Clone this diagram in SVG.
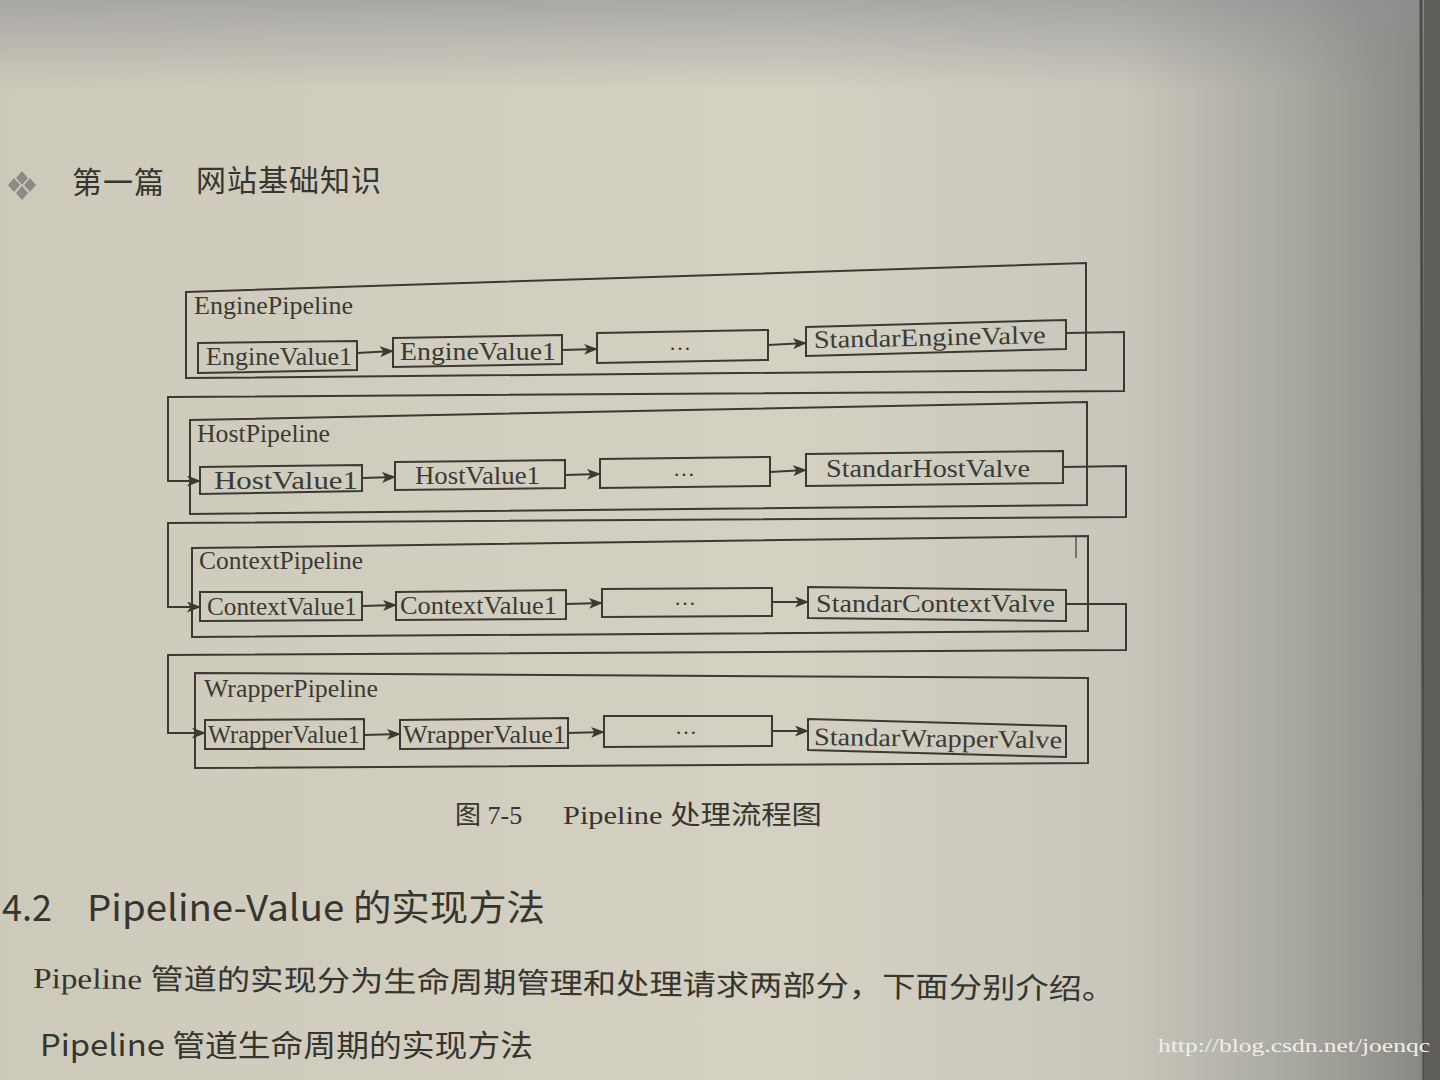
<svg xmlns="http://www.w3.org/2000/svg" width="1440" height="1080" viewBox="0 0 1440 1080">
<defs>
<linearGradient id="pageH" x1="0" y1="0" x2="1" y2="0">
<stop offset="0" stop-color="#cdcabb"/>
<stop offset="0.55" stop-color="#d4d1c3"/>
<stop offset="0.78" stop-color="#c9c7bb"/>
<stop offset="0.9" stop-color="#a9a8a0"/>
<stop offset="0.985" stop-color="#8a8983"/>
<stop offset="1" stop-color="#6a6a64"/>
</linearGradient>
<linearGradient id="topShade" x1="0" y1="0" x2="0" y2="1">
<stop offset="0" stop-color="#8e8e92" stop-opacity="0.6"/>
<stop offset="1" stop-color="#8e8e92" stop-opacity="0"/>
</linearGradient>
<marker id="arr" viewBox="0 0 14 11" refX="13" refY="5.5" markerWidth="14" markerHeight="11" markerUnits="userSpaceOnUse" orient="auto">
<path d="M0,0 L14,5.5 L0,11 L3.5,5.5 Z" fill="#3a3934"/>
</marker>
<style>
.box{fill:none;stroke:#3a3934;stroke-width:2;stroke-linejoin:miter}
.conn{fill:none;stroke:#3a3934;stroke-width:2}
.lbl{font-family:"Liberation Serif","DejaVu Serif",serif;font-size:25px;fill:#3b3a35}
.dots{font-family:"Liberation Serif",serif;font-size:22px;fill:#3b3a35}
.cjk{font-family:"Noto Sans CJK SC","Noto Sans",sans-serif;fill:#36352f}
.ser{font-family:"Liberation Serif","Noto Sans CJK SC",serif;fill:#36352f}
</style>
</defs>
<rect x="0" y="0" width="1440" height="1080" fill="url(#pageH)"/>
<rect x="0" y="0" width="1440" height="90" fill="url(#topShade)"/>
<line x1="1421" y1="0" x2="1424" y2="1080" stroke="#4d4c45" stroke-width="3"/>
<rect x="1424" y="0" width="16" height="1080" fill="#5e5d57"/>

<g id="header">
<g fill="#8c8b85">
<path d="M22,171 L28,178 L22,185 L16,178 Z"/>
<path d="M22,186 L28,193 L22,200 L16,193 Z"/>
<path d="M14,178 L20,185 L14,192 L8,185 Z"/>
<path d="M30,178 L36,185 L30,192 L24,185 Z"/>
</g>
<text class="cjk" x="72" y="193" font-size="30" textLength="92">第一篇</text>
<text class="cjk" x="196" y="191" font-size="30" textLength="185">网站基础知识</text>
</g>

<g id="connectors">
<polyline class="conn" points="1066,333 1124,332 1124,391 168,397 168,481 200,481" marker-end="url(#arr)"/>
<polyline class="conn" points="1063,467 1126,466 1126,517 168,523 168,607 200,607" marker-end="url(#arr)"/>
<polyline class="conn" points="1066,604 1126,604 1126,650 168,655 168,733 205,733" marker-end="url(#arr)"/>
<line class="conn" x1="357" y1="353" x2="393" y2="351" marker-end="url(#arr)"/>
<line class="conn" x1="562" y1="350" x2="597" y2="349" marker-end="url(#arr)"/>
<line class="conn" x1="768" y1="345" x2="806" y2="343" marker-end="url(#arr)"/>
<line class="conn" x1="362" y1="478" x2="395" y2="477" marker-end="url(#arr)"/>
<line class="conn" x1="565" y1="475" x2="600" y2="474" marker-end="url(#arr)"/>
<line class="conn" x1="770" y1="472" x2="806" y2="470" marker-end="url(#arr)"/>
<line class="conn" x1="362" y1="606" x2="396" y2="605" marker-end="url(#arr)"/>
<line class="conn" x1="566" y1="604" x2="602" y2="603" marker-end="url(#arr)"/>
<line class="conn" x1="772" y1="602" x2="808" y2="602" marker-end="url(#arr)"/>
<line class="conn" x1="364" y1="735" x2="400" y2="734" marker-end="url(#arr)"/>
<line class="conn" x1="568" y1="733" x2="604" y2="732" marker-end="url(#arr)"/>
<line class="conn" x1="772" y1="731" x2="808" y2="731" marker-end="url(#arr)"/>
<line x1="1076" y1="537" x2="1076" y2="558" stroke="#5a5953" stroke-width="1.5"/>
</g>

<g id="engine-pipeline">
<polygon class="box" points="186,292 1086,263 1086,370 186,378"/>
<text class="lbl" x="194" y="314" textLength="159" lengthAdjust="spacingAndGlyphs">EnginePipeline</text>
<g id="engine-value-1"><polygon class="box" points="198,343 357,341 357,370 198,373"/><text class="lbl" x="206" y="365" textLength="146" lengthAdjust="spacingAndGlyphs">EngineValue1</text></g>
<g id="engine-value-2"><polygon class="box" points="393,338 562,335 562,364 393,367"/><text class="lbl" x="400" y="360" textLength="156" lengthAdjust="spacingAndGlyphs">EngineValue1</text></g>
<g id="engine-more"><polygon class="box" points="597,333 768,330 768,360 597,363"/><text class="dots" x="680" y="350" text-anchor="middle">…</text></g>
<g id="standar-engine-valve"><polygon class="box" points="806,327 1066,320 1066,349 806,356"/><text class="lbl" x="814" y="348" textLength="232" lengthAdjust="spacingAndGlyphs" transform="rotate(-1.2 814 348)">StandarEngineValve</text></g>
</g>

<g id="host-pipeline">
<polygon class="box" points="190,420 1087,402 1087,505 190,514"/>
<text class="lbl" x="197" y="442" textLength="133" lengthAdjust="spacingAndGlyphs">HostPipeline</text>
<g id="host-value-1"><polygon class="box" points="200,467 362,465 362,491 200,494"/><text class="lbl" x="214" y="489" textLength="144" lengthAdjust="spacingAndGlyphs">HostValue1</text></g>
<g id="host-value-2"><polygon class="box" points="395,462 565,460 565,488 395,490"/><text class="lbl" x="415" y="484" textLength="125" lengthAdjust="spacingAndGlyphs">HostValue1</text></g>
<g id="host-more"><polygon class="box" points="600,459 770,457 770,486 600,488"/><text class="dots" x="684" y="476" text-anchor="middle">…</text></g>
<g id="standar-host-valve"><polygon class="box" points="806,454 1063,451 1063,483 806,486"/><text class="lbl" x="826" y="477" textLength="204" lengthAdjust="spacingAndGlyphs">StandarHostValve</text></g>
</g>

<g id="context-pipeline">
<polygon class="box" points="192,548 1088,536 1088,631 192,637"/>
<text class="lbl" x="199" y="569" textLength="164" lengthAdjust="spacingAndGlyphs">ContextPipeline</text>
<g id="context-value-1"><polygon class="box" points="200,592 362,592 362,620 200,621"/><text class="lbl" x="207" y="615" textLength="150" lengthAdjust="spacingAndGlyphs">ContextValue1</text></g>
<g id="context-value-2"><polygon class="box" points="396,592 566,590 566,619 396,620"/><text class="lbl" x="400" y="614" textLength="157" lengthAdjust="spacingAndGlyphs">ContextValue1</text></g>
<g id="context-more"><polygon class="box" points="602,589 772,588 772,616 602,617"/><text class="dots" x="685" y="605" text-anchor="middle">…</text></g>
<g id="standar-context-valve"><polygon class="box" points="808,587 1066,590 1066,621 808,618"/><text class="lbl" x="816" y="612" textLength="239" lengthAdjust="spacingAndGlyphs">StandarContextValve</text></g>
</g>

<g id="wrapper-pipeline">
<polygon class="box" points="195,673 1088,678 1088,763 195,768"/>
<text class="lbl" x="204" y="697" textLength="174" lengthAdjust="spacingAndGlyphs">WrapperPipeline</text>
<g id="wrapper-value-1"><polygon class="box" points="205,720 364,719 364,749 205,749"/><text class="lbl" x="208" y="743" textLength="152" lengthAdjust="spacingAndGlyphs">WrapperValue1</text></g>
<g id="wrapper-value-2"><polygon class="box" points="400,720 568,718 568,748 400,749"/><text class="lbl" x="403" y="743" textLength="163" lengthAdjust="spacingAndGlyphs">WrapperValue1</text></g>
<g id="wrapper-more"><polygon class="box" points="604,716 772,716 772,746 604,747"/><text class="dots" x="686" y="734" text-anchor="middle">…</text></g>
<g id="standar-wrapper-valve"><polygon class="box" points="808,719 1066,726 1066,757 808,750"/><text class="lbl" x="814" y="745" textLength="248" lengthAdjust="spacingAndGlyphs" transform="rotate(0.8 814 745)">StandarWrapperValve</text></g>
</g>

<g id="caption">
<text class="ser" x="455" y="824" font-size="26">图 7-5</text>
<text class="ser" x="563" y="824" font-size="26" textLength="259" lengthAdjust="spacingAndGlyphs">Pipeline 处理流程图</text>
</g>

<g id="body-text">
<text class="cjk" x="2" y="921" font-size="36">4.2</text>
<text class="cjk" x="87" y="921" font-size="36" textLength="458" lengthAdjust="spacingAndGlyphs">Pipeline-Value 的实现方法</text>
<text class="ser" x="33" y="988" font-size="29" textLength="1082" lengthAdjust="spacingAndGlyphs" transform="rotate(0.6 33 988)">Pipeline 管道的实现分为生命周期管理和处理请求两部分，下面分别介绍。</text>
<text class="cjk" x="40" y="1056" font-size="30" textLength="493" lengthAdjust="spacingAndGlyphs">Pipeline 管道生命周期的实现方法</text>
<text x="1158" y="1052" font-family="Liberation Serif, serif" font-size="19" fill="#f0efea" textLength="272" lengthAdjust="spacingAndGlyphs">http://blog.csdn.net/joenqc</text>
</g>
</svg>
